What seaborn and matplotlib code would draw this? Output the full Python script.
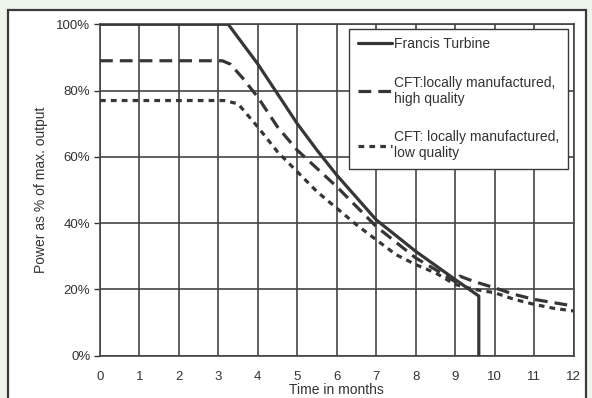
import numpy as np
import pandas as pd
import seaborn as sns
import matplotlib
matplotlib.use("Agg")
import matplotlib.pyplot as plt
from matplotlib.patches import Rectangle

# ---- data ----
francis_x = [0, 3.25, 4, 4.5, 5, 5.5, 6, 7, 8, 9, 9.6, 9.6]
francis_y = [100, 100, 88, 79, 70, 62, 54.5, 41, 31.5, 23, 18, 0]

hq_x = [0, 3.1, 3.3, 3.6, 4, 4.5, 5, 6, 7, 8, 8.5, 9.05, 9.12, 9.5, 10, 10.5, 11, 11.5, 12]
hq_y = [89, 89, 88, 84, 78, 69, 62, 51, 39, 29.5, 26, 22, 24, 22.3, 20.5, 18.5, 17, 16, 15]

lq_x = [0, 3.15, 3.5, 4, 4.5, 5, 5.5, 6, 6.5, 7, 7.5, 8, 8.5, 9, 9.5, 10, 10.5, 11, 11.5, 12]
lq_y = [77, 77, 76, 69, 61.5, 55.5, 49.5, 44.5, 39.5, 35, 30.5, 27.5, 25, 21.5, 20, 19, 17, 15.5, 14.3, 13.5]

series_names = ["Francis Turbine",
                "CFT:locally manufactured,\nhigh quality",
                "CFT: locally manufactured,\nlow quality"]
x_ticks = list(range(0, 13))
y_ticks = [0, 20, 40, 60, 80, 100]
y_tick_labels = ["0%", "20%", "40%", "60%", "80%", "100%"]

frames = []
for name, xs, ys in zip(series_names, [francis_x, hq_x, lq_x], [francis_y, hq_y, lq_y]):
    frames.append(pd.DataFrame({"month": xs, "power": ys, "series": name}))
df = pd.concat(frames, ignore_index=True)

sns.set_style("white")
plt.rcParams['font.family'] = ['Liberation Sans', 'DejaVu Sans']

fig = plt.figure(figsize=(5.92, 3.98), dpi=100)
fig.patch.set_facecolor("#eef5ec")
# inner white panel with dark frame
fig.patches.append(Rectangle((8/592, -0.01), (586-8)/592, (398-10)/398 + 0.01, transform=fig.transFigure,
                             facecolor="white", edgecolor="#3a3a3a", linewidth=1.6, zorder=-5))

ax = fig.add_axes([100/592, 1-355.7/398, 473.5/592, 331.4/398])
ax.set_zorder(2)
ax.set_facecolor("white")

line_col = "#363636"
for name in series_names:
    sub = df[df["series"] == name]
    sns.lineplot(data=sub, x="month", y="power", ax=ax, sort=False, estimator=None,
                 color=line_col, linewidth=2.3, label=name, zorder=3)
lines = ax.get_lines()
lines[1].set_dashes([4, 2.2])
lines[2].set_dashes([1.8, 1.6])

ax.set_xlim(0, 12)
ax.set_ylim(0, 100)
ax.set_xticks(x_ticks)
ax.set_yticks(y_ticks)
ax.set_yticklabels(y_tick_labels)
ax.grid(True, color="#444444", linewidth=1.2)
ax.set_axisbelow(True)
for s in ax.spines.values():
    s.set_color("#444444")
    s.set_linewidth(1.2)
ax.tick_params(axis="x", length=0, pad=11, labelsize=9.5, colors="#333333")
ax.tick_params(axis="y", length=4, width=1, pad=3, labelsize=9.5, colors="#333333", left=True)
ax.set_xlabel("Time in months", fontsize=10, color="#333333", labelpad=0)
ax.set_ylabel("Power as % of max. output", fontsize=10, color="#333333", labelpad=6)

leg = ax.legend(loc="upper right", bbox_to_anchor=(0.988, 0.986), borderaxespad=0,
                fontsize=10, frameon=True, fancybox=False, handlelength=2.5,
                handletextpad=0.15, labelspacing=1.75, borderpad=0.6,
                labelcolor="#333333")
leg.get_frame().set_edgecolor("#3a3a3a")
leg.get_frame().set_linewidth(1.0)
leg.get_frame().set_alpha(1)

fig.savefig("out.png", dpi=100, facecolor=fig.get_facecolor())
